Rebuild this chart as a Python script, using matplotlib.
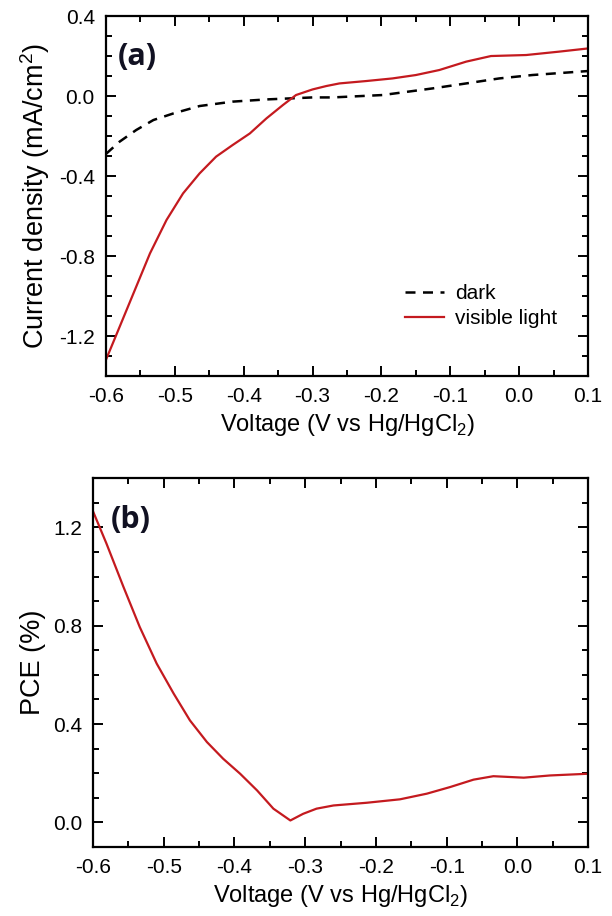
import numpy as np
import matplotlib
matplotlib.use('Agg')
import matplotlib.pyplot as plt
from matplotlib.ticker import MultipleLocator

plt.rcParams['font.family'] = ['Liberation Sans', 'DejaVu Sans']
plt.rcParams['mathtext.fontset'] = 'custom'
plt.rcParams['mathtext.rm'] = 'Liberation Sans'
plt.rcParams['axes.unicode_minus'] = False

# panel (a): J-V curves
v_dark = [-0.6, -0.58, -0.556, -0.531, -0.502, -0.464, -0.416, -0.367, -0.3,
          -0.271, -0.198, -0.126, -0.077, -0.029, 0.019, 0.1]
j_dark = [-0.29, -0.228, -0.17, -0.12, -0.087, -0.05, -0.028, -0.017, -0.007,
          -0.007, 0.005, 0.038, 0.063, 0.088, 0.105, 0.125]

v_light = [-0.6, -0.584, -0.56, -0.536, -0.512, -0.488, -0.464, -0.44, -0.416,
           -0.391, -0.367, -0.343, -0.324, -0.3, -0.28, -0.261, -0.222,
           -0.184, -0.15, -0.116, -0.077, -0.041, 0.01, 0.058, 0.1]
j_light = [-1.32, -1.187, -0.987, -0.787, -0.62, -0.487, -0.387, -0.303, -0.245,
           -0.187, -0.112, -0.045, 0.005, 0.033, 0.05, 0.063, 0.075,
           0.088, 0.105, 0.13, 0.172, 0.2, 0.205, 0.222, 0.238]

# panel (b): PCE
v_pce = [-0.6, -0.581, -0.557, -0.534, -0.51, -0.486, -0.463, -0.439, -0.416,
         -0.392, -0.368, -0.345, -0.321, -0.303, -0.284, -0.26, -0.213, -0.166,
         -0.128, -0.095, -0.062, -0.034, 0.009, 0.046, 0.1]
pce = [1.265, 1.134, 0.958, 0.795, 0.646, 0.524, 0.415, 0.327, 0.259,
       0.198, 0.13, 0.056, 0.008, 0.035, 0.056, 0.069, 0.08, 0.094,
       0.117, 0.144, 0.174, 0.188, 0.182, 0.191, 0.198]

red = '#c41a1f'
xlabel = 'Voltage (V vs Hg/HgCl$_2$)'

fig = plt.figure(figsize=(6.12, 9.16), dpi=100)
ax1 = fig.add_axes([0.173, 0.5895, 0.788, 0.393])
ax2 = fig.add_axes([0.152, 0.0753, 0.809, 0.4027])


def style(ax):
    for s in ax.spines.values():
        s.set_linewidth(1.6)
    ax.xaxis.set_major_locator(MultipleLocator(0.1))
    ax.xaxis.set_minor_locator(MultipleLocator(0.05))
    ax.yaxis.set_minor_locator(MultipleLocator(0.1))
    ax.tick_params(which='both', direction='in', top=True, right=True,
                   width=1.4, labelsize=15)
    ax.tick_params(which='major', length=7, pad=8)
    ax.tick_params(which='minor', length=4)
    ax.set_xlim(-0.6, 0.1)


ax1.plot(v_dark, j_dark, color='black', linestyle=(0, (4, 3)), lw=1.8, label='dark')
ax1.plot(v_light, j_light, color=red, lw=1.6, label='visible light')
style(ax1)
ax1.set_ylim(-1.4, 0.4)
ax1.set_yticks([-1.2, -0.8, -0.4, 0.0, 0.4])
ax1.set_xlabel(xlabel, fontsize=17, labelpad=4)
ax1.set_ylabel('Current density (mA/cm$^2$)', fontsize=19.5, labelpad=5)
ax1.text(0.025, 0.885, '(a)', transform=ax1.transAxes, fontsize=22,
         fontweight='bold', color='#111122', va='center', family='Open Sans')
ax1.legend(loc='lower right', bbox_to_anchor=(0.975, 0.08), frameon=False,
           fontsize=15, handlelength=1.85, handletextpad=0.55, labelspacing=0.3)

ax2.plot(v_pce, pce, color=red, lw=1.6)
style(ax2)
ax2.set_ylim(-0.1, 1.4)
ax2.set_yticks([0.0, 0.4, 0.8, 1.2])
ax2.set_xlabel(xlabel, fontsize=17, labelpad=4)
ax2.set_ylabel('PCE (%)', fontsize=19.5, labelpad=5)
ax2.text(0.035, 0.886, '(b)', transform=ax2.transAxes, fontsize=22,
         fontweight='bold', color='#111122', va='center', family='Open Sans')

fig.savefig('out.png', dpi=100)
